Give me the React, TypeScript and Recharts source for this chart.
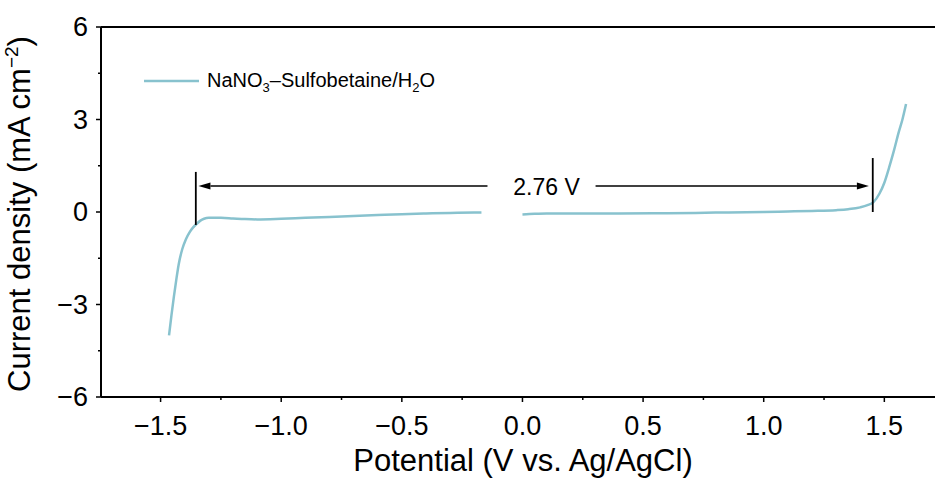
import React from 'react';
import { ComposedChart, Line, XAxis, YAxis, ReferenceLine, ReferenceDot } from 'recharts';

// LSV sweep, split into the cathodic and anodic halves (gap near 0 V)
const cathodicPotential = [-1.465, -1.455, -1.445, -1.435, -1.425, -1.41, -1.395, -1.38, -1.365, -1.35, -1.335, -1.32, -1.3, -1.25, -1.2, -1.15, -1.1, -1.0, -0.9, -0.8, -0.7, -0.6, -0.5, -0.4, -0.3, -0.2, -0.17];
const cathodicCurrent = [-4.0, -3.35, -2.75, -2.2, -1.7, -1.2, -0.88, -0.66, -0.5, -0.38, -0.28, -0.22, -0.19, -0.19, -0.21, -0.23, -0.24, -0.22, -0.19, -0.16, -0.13, -0.1, -0.07, -0.05, -0.03, -0.02, -0.02];
const anodicPotential = [0.0, 0.05, 0.1, 0.2, 0.4, 0.6, 0.8, 1.0, 1.1, 1.2, 1.3, 1.35, 1.4, 1.43, 1.455, 1.48, 1.5, 1.52, 1.54, 1.56, 1.575, 1.59];
const anodicCurrent = [-0.08, -0.06, -0.05, -0.05, -0.05, -0.04, -0.02, 0.0, 0.02, 0.035, 0.06, 0.09, 0.15, 0.22, 0.32, 0.6, 0.95, 1.45, 2.0, 2.6, 3.0, 3.5];

const xTicks = [-1.5, -1.25, -1.0, -0.75, -0.5, -0.25, 0.0, 0.25, 0.5, 0.75, 1.0, 1.25, 1.5];
const yTicks = [-6, -4.5, -3, -1.5, 0, 1.5, 3, 4.5, 6];
const xMajor = [-1.5, -1.0, -0.5, 0.0, 0.5, 1.0, 1.5];
const yMajor = [-6, -3, 0, 3, 6];

// electrochemical window markers
const windowLow = -1.354;
const windowHigh = 1.452;
const windowLabel = '2.76 V';

const cathodic = cathodicPotential.map((v, i) => ({ v, j: cathodicCurrent[i] }));
const anodic = anodicPotential.map((v, i) => ({ v, j: anodicCurrent[i] }));

const FONT = '"Liberation Sans", Arial, Helvetica, sans-serif';
const CURVE = '#88c2ce';

const fmt = (n: number, digits: number) => (n < 0 ? '\u2212' : '') + Math.abs(n).toFixed(digits);

const XTick = (props: any) => {
    const { x, y, payload } = props;
    const major = xMajor.some(m => Math.abs(m - payload.value) < 1e-6);
    return (
        <g>
            <line x1={x} y1={y} x2={x} y2={y + (major ? 5 : 3)} stroke="#000" strokeWidth={1.5} />
            {major && (
                <text x={x} y={y + 38} textAnchor="middle" fontSize={27} fontFamily={FONT} fill="#000">
                    {fmt(payload.value, 1)}
                </text>
            )}
        </g>
    );
};

const YTick = (props: any) => {
    const { x, y, payload } = props;
    const major = yMajor.includes(payload.value);
    return (
        <g>
            <line x1={x} y1={y} x2={x - (major ? 5 : 3)} y2={y} stroke="#000" strokeWidth={1.5} />
            {major && (
                <text x={x - 13} y={y + 9} textAnchor="end" fontSize={27} fontFamily={FONT} fill="#000">
                    {fmt(payload.value, 0)}
                </text>
            )}
        </g>
    );
};

// horizontal arrow; head drawn at the (x2, y2) end
const arrowShape = (props: any) => {
    const { x1, y1, x2, y2 } = props;
    const dir = x2 > x1 ? 1 : -1;
    const head = 12;
    return (
        <g>
            <line x1={x1} y1={y1} x2={x2 - dir * head} y2={y2} stroke="#000" strokeWidth={1.5} />
            <polygon points={`${x2},${y2} ${x2 - dir * head},${y2 - 3.5} ${x2 - dir * head},${y2 + 3.5}`} fill="#000" />
        </g>
    );
};

const labelShape = (props: any) => (
    <text x={props.cx} y={props.cy + 9} textAnchor="middle" fontSize={23} fontFamily={FONT} fill="#000">
        {windowLabel}
    </text>
);

export default function App() {
    return (
        <div style={{ position: 'absolute', left: 0, top: 0, width: 935, height: 484, background: '#fff' }}>
            <ComposedChart width={935} height={484} margin={{ top: 27, right: 0, bottom: 0, left: 41 }}>
                <XAxis
                    type="number"
                    dataKey="v"
                    domain={[-1.747, 1.71]}
                    allowDataOverflow
                    ticks={xTicks}
                    interval={0}
                    tick={<XTick />}
                    tickLine={false}
                    tickSize={0}
                    tickMargin={0}
                    height={87}
                    axisLine={{ stroke: '#000', strokeWidth: 2 }}
                />
                <YAxis
                    type="number"
                    domain={[-6, 6]}
                    allowDataOverflow
                    ticks={yTicks}
                    interval={0}
                    tick={<YTick />}
                    tickLine={false}
                    tickSize={0}
                    tickMargin={0}
                    width={60}
                    axisLine={{ stroke: '#000', strokeWidth: 2 }}
                />
                <ReferenceLine y={6} stroke="#000" strokeWidth={2} ifOverflow="visible" />

                <Line data={cathodic} dataKey="j" type="monotone" stroke={CURVE} strokeWidth={2.5} dot={false} isAnimationActive={false} />
                <Line data={anodic} dataKey="j" type="monotone" stroke={CURVE} strokeWidth={2.5} dot={false} isAnimationActive={false} />

                <ReferenceLine segment={[{ x: windowLow, y: -0.42 }, { x: windowLow, y: 1.3 }]} stroke="#000" strokeWidth={1.8} />
                <ReferenceLine segment={[{ x: windowHigh, y: 0.0 }, { x: windowHigh, y: 1.75 }]} stroke="#000" strokeWidth={1.8} />
                <ReferenceLine segment={[{ x: -0.145, y: 0.84 }, { x: -1.343, y: 0.84 }]} shape={arrowShape} />
                <ReferenceLine segment={[{ x: 0.303, y: 0.84 }, { x: 1.436, y: 0.84 }]} shape={arrowShape} />
                <ReferenceDot x={0.1} y={0.84} shape={labelShape} />
            </ComposedChart>

            <svg width={935} height={484} style={{ position: 'absolute', left: 0, top: 0, pointerEvents: 'none' }}>
                <g fontFamily={FONT} fill="#000">
                    <text x={523} y={471} textAnchor="middle" fontSize={31}>Potential (V vs. Ag/AgCl)</text>
                    <text transform="translate(30,214) rotate(-90)" textAnchor="middle" fontSize={31}>
                        Current density (mA cm<tspan fontSize={19} dy={-12}>{'\u22122'}</tspan><tspan dy={12}>)</tspan>
                    </text>
                </g>
                <line x1={144} y1={81} x2={199} y2={81} stroke={CURVE} strokeWidth={2.5} />
                <text x={207} y={87} fontSize={20} fontFamily={FONT} fill="#000">
                    NaNO<tspan fontSize={13} dy={5}>3</tspan><tspan dy={-5}>{'\u2013Sulfobetaine/H'}</tspan><tspan fontSize={13} dy={5}>2</tspan><tspan dy={-5}>O</tspan>
                </text>
            </svg>
        </div>
    );
}
